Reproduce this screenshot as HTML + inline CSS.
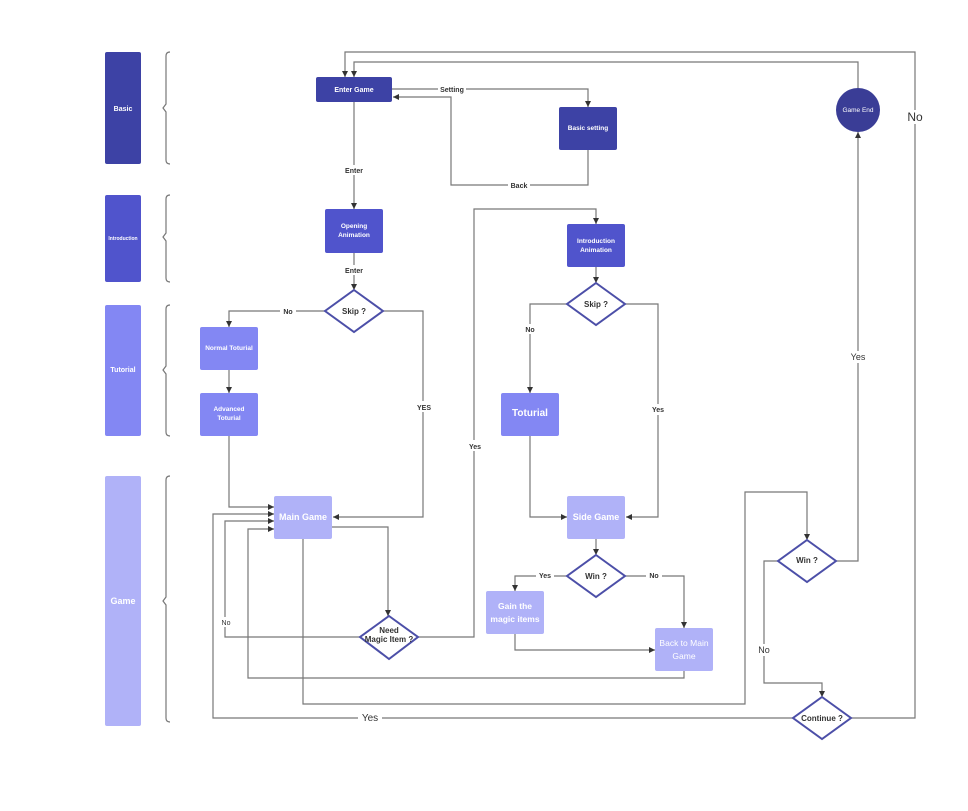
<!DOCTYPE html>
<html><head><meta charset="utf-8"><style>
body{margin:0;background:#fff}
svg{display:block;font-family:"Liberation Sans",sans-serif;font-weight:bold}
.l{fill:none;stroke:#777;stroke-width:1.2}
.d{fill:#fff;stroke:#4c4fa8;stroke-width:2}
.t{fill:#fff;text-anchor:middle}
.k{fill:#333;text-anchor:middle;font-size:8px}
.bg{fill:#fff}
</style></head><body>
<svg width="968" height="811" viewBox="0 0 968 811">
<defs><marker id="a" markerWidth="6" markerHeight="6" refX="5" refY="3" orient="auto"><path d="M0,0.5L5,3L0,5.5z" fill="#333"/></marker></defs>
<!-- lanes -->
<rect x="105" y="52" width="36" height="112" rx="2" fill="#3d42a5"/>
<rect x="105" y="195" width="36" height="87" rx="2" fill="#5054cc"/>
<rect x="105" y="305" width="36" height="131" rx="2" fill="#8387f3"/>
<rect x="105" y="476" width="36" height="250" rx="2" fill="#b0b2f8"/>
<text class="t" x="123" y="111" font-size="7">Basic</text>
<text class="t" x="123" y="240" font-size="5">Introduction</text>
<text class="t" x="123" y="372" font-size="7">Tutorial</text>
<text class="t" x="123" y="604" font-size="9">Game</text>
<g class="l" stroke="#999">
<path d="M170,52 q-4,0 -4,4 v48 l-3,4 l3,4 v48 q0,4 4,4"/>
<path d="M170,195 q-4,0 -4,4 v34 l-3,4 l3,4 v37 q0,4 4,4"/>
<path d="M170,305 q-4,0 -4,4 v57 l-3,4 l3,4 v58 q0,4 4,4"/>
<path d="M170,476 q-4,0 -4,4 v117 l-3,4 l3,4 v113 q0,4 4,4"/>
</g>
<!-- connectors -->
<g class="l" marker-end="url(#a)">
<path d="M354,102V209"/>
<path d="M392,89H588V107"/>
<path d="M588,150V185H451V97H393"/>
<path d="M851,718H915V52H345V77"/>
<path d="M858,88V62H354V77"/>
<path d="M354,253V290"/>
<path d="M325,311H229V327"/>
<path d="M383,311H423V517H333"/>
<path d="M229,370V393"/>
<path d="M229,436V507H274"/>
<path d="M332,527H388V616"/>
<path d="M360,637H225V521H274"/>
<path d="M418,637H474V209H596V224"/>
<path d="M596,267V283"/>
<path d="M567,304H530V393"/>
<path d="M625,304H658V517H626"/>
<path d="M530,436V517H567"/>
<path d="M596,539V555"/>
<path d="M567,576H515V591"/>
<path d="M625,576H684V628"/>
<path d="M515,634V650H655"/>
<path d="M684,671V678H248V529H274"/>
<path d="M303,539V704H745V492H807V540"/>
<path d="M836,561H858V132"/>
<path d="M778,561H764V683H822V697"/>
<path d="M793,718H213V514H274"/>
</g>
<!-- label backgrounds + labels -->
<g font-size="7" fill="#333" text-anchor="middle">
<rect class="bg" x="341" y="165" width="26" height="10"/><text x="354" y="173">Enter</text>
<rect class="bg" x="438" y="84" width="28" height="10"/><text x="452" y="92">Setting</text>
<rect class="bg" x="508" y="180" width="22" height="10"/><text x="519" y="188">Back</text>
<rect class="bg" x="341" y="265" width="26" height="10"/><text x="354" y="273">Enter</text>
<rect class="bg" x="280" y="306" width="16" height="10"/><text x="288" y="314">No</text>
<rect class="bg" x="413" y="401" width="22" height="11"/><text x="424" y="410">YES</text>
<rect class="bg" x="218" y="617" width="16" height="10"/><text x="226" y="625" font-weight="normal">No</text>
<rect class="bg" x="466" y="440" width="18" height="11"/><text x="475" y="449">Yes</text>
<rect class="bg" x="522" y="324" width="16" height="10"/><text x="530" y="332">No</text>
<rect class="bg" x="649" y="404" width="18" height="11"/><text x="658" y="412">Yes</text>
<rect class="bg" x="536" y="571" width="18" height="10"/><text x="545" y="578">Yes</text>
<rect class="bg" x="646" y="571" width="16" height="10"/><text x="654" y="578">No</text>
<rect class="bg" x="848" y="351" width="20" height="12"/><text x="858" y="360" font-size="9" font-weight="normal">Yes</text>
<rect class="bg" x="755" y="644" width="18" height="12"/><text x="764" y="653" font-size="9" font-weight="normal">No</text>
<rect class="bg" x="358" y="712" width="24" height="12"/><text x="370" y="721" font-size="10" font-weight="normal">Yes</text>
<rect class="bg" x="903" y="110" width="24" height="14"/><text x="915" y="121" font-size="12" font-weight="normal">No</text>
</g>
<!-- nodes -->
<rect x="316" y="77" width="76" height="25" rx="2" fill="#3d42a5"/><text class="t" x="354" y="92" font-size="7">Enter Game</text>
<rect x="559" y="107" width="58" height="43" rx="2" fill="#3d42a5"/><text class="t" x="588" y="130" font-size="6.5">Basic setting</text>
<circle cx="858" cy="110" r="22" fill="#3a3d96"/><text class="t" x="858" y="112" font-size="6.5" font-weight="normal">Game End</text>
<rect x="325" y="209" width="58" height="44" rx="2" fill="#5054cc"/><text class="t" x="354" y="228" font-size="6.5">Opening</text><text class="t" x="354" y="237" font-size="6.5">Animation</text>
<rect x="567" y="224" width="58" height="43" rx="2" fill="#5054cc"/><text class="t" x="596" y="243" font-size="6.5">Introduction</text><text class="t" x="596" y="252" font-size="6.5">Animation</text>
<rect x="200" y="327" width="58" height="43" rx="2" fill="#8387f3"/><text class="t" x="229" y="350" font-size="6.5">Normal Toturial</text>
<rect x="200" y="393" width="58" height="43" rx="2" fill="#8387f3"/><text class="t" x="229" y="411" font-size="6.5">Advanced</text><text class="t" x="229" y="420" font-size="6.5">Toturial</text>
<rect x="501" y="393" width="58" height="43" rx="2" fill="#8387f3"/><text class="t" x="530" y="416" font-size="10">Toturial</text>
<rect x="274" y="496" width="58" height="43" rx="2" fill="#b0b2f8"/><text class="t" x="303" y="520" font-size="9">Main Game</text>
<rect x="567" y="496" width="58" height="43" rx="2" fill="#b0b2f8"/><text class="t" x="596" y="520" font-size="9">Side Game</text>
<rect x="486" y="591" width="58" height="43" rx="2" fill="#b0b2f8"/><text class="t" x="515" y="609" font-size="8.5">Gain the</text><text class="t" x="515" y="622" font-size="8.5">magic items</text>
<rect x="655" y="628" width="58" height="43" rx="2" fill="#b0b2f8"/><text class="t" x="684" y="646" font-size="8.5" font-weight="normal">Back to Main</text><text class="t" x="684" y="659" font-size="8.5" font-weight="normal">Game</text>
<!-- diamonds -->
<path class="d" d="M354,290L383,311L354,332L325,311Z"/><text class="k" x="354" y="314" font-size="10">Skip ?</text>
<path class="d" d="M596,283L625,304L596,325L567,304Z"/><text class="k" x="596" y="307" font-size="10">Skip ?</text>
<path class="d" d="M596,555L625,576L596,597L567,576Z"/><text class="k" x="596" y="579" font-size="6.5">Win ?</text>
<path class="d" d="M389,616L418,637L389,659L360,637Z"/><text class="k" x="389" y="633" font-size="6.5">Need</text><text class="k" x="389" y="642" font-size="6.5">Magic Item ?</text>
<path class="d" d="M807,540L836,561L807,582L778,561Z"/><text class="k" x="807" y="563" font-size="6.5">Win ?</text>
<path class="d" d="M822,697L851,718L822,739L793,718Z"/><text class="k" x="822" y="721" font-size="6.5">Continue ?</text>
</svg>
</body></html>
